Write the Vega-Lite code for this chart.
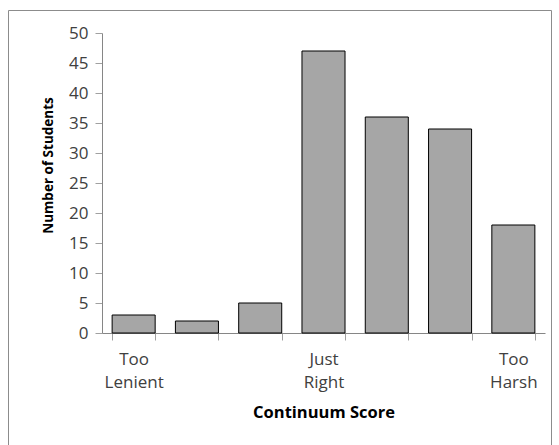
{
  "$schema": "https://vega.github.io/schema/vega-lite/v6.json",
  "autosize": "none",
  "width": 543,
  "height": 440,
  "padding": {"left": 8, "top": 10, "right": 8, "bottom": 0},
  "background": "white",
  "data": {"values": [
    {"score": 1, "students": 3},
    {"score": 2, "students": 2},
    {"score": 3, "students": 5},
    {"score": 4, "students": 47},
    {"score": 5, "students": 36},
    {"score": 6, "students": 34},
    {"score": 7, "students": 18}
  ]},
  "mark": {"type": "bar", "fill": "#A6A6A6", "stroke": "#000000", "strokeWidth": 1},
  "encoding": {
    "x": {
      "field": "score", "type": "ordinal",
      "scale": {"paddingInner": 0.32, "paddingOuter": 0.16, "range": [94, 537]},
      "axis": {
        "title": "Continuum Score",
        "offset": -117,
        "labelAngle": 0,
        "tickBand": "extent",
        "labelExpr": "datum.value == 1 ? ['Too', 'Lenient'] : datum.value == 4 ? ['Just', 'Right'] : datum.value == 7 ? ['Too', 'Harsh'] : ''",
        "labelPadding": 11,
        "labelLineHeight": 23,
        "titlePadding": 14,
        "labelFont": "Open Sans",
        "titleFont": "Open Sans",
        "labelFontSize": 17,
        "titleFontSize": 16.5,
        "titleFontWeight": "bold",
        "labelColor": "#404040",
        "titleColor": "#000000",
        "domainColor": "#868686",
        "tickColor": "#A0A0A0",
        "tickSize": 7
      }
    },
    "y": {
      "field": "students", "type": "quantitative",
      "scale": {"domain": [0, 50], "range": [323, 23]},
      "axis": {
        "title": "Number of Students",
        "offset": -94,
        "titleY": 155,
        "values": [0, 5, 10, 15, 20, 25, 30, 35, 40, 45, 50],
        "grid": false,
        "labelPadding": 7,
        "titlePadding": 13,
        "labelFont": "Open Sans",
        "titleFont": "Open Sans",
        "labelFontSize": 17,
        "titleFontSize": 13.5,
        "titleFontWeight": "bold",
        "labelColor": "#404040",
        "titleColor": "#000000",
        "domainColor": "#868686",
        "tickColor": "#A0A0A0",
        "tickSize": 7,
        "labelFlush": false
      }
    }
  },
  "config": {
    "view": {"stroke": "#8C8C8C", "strokeWidth": 1}
  }
}
